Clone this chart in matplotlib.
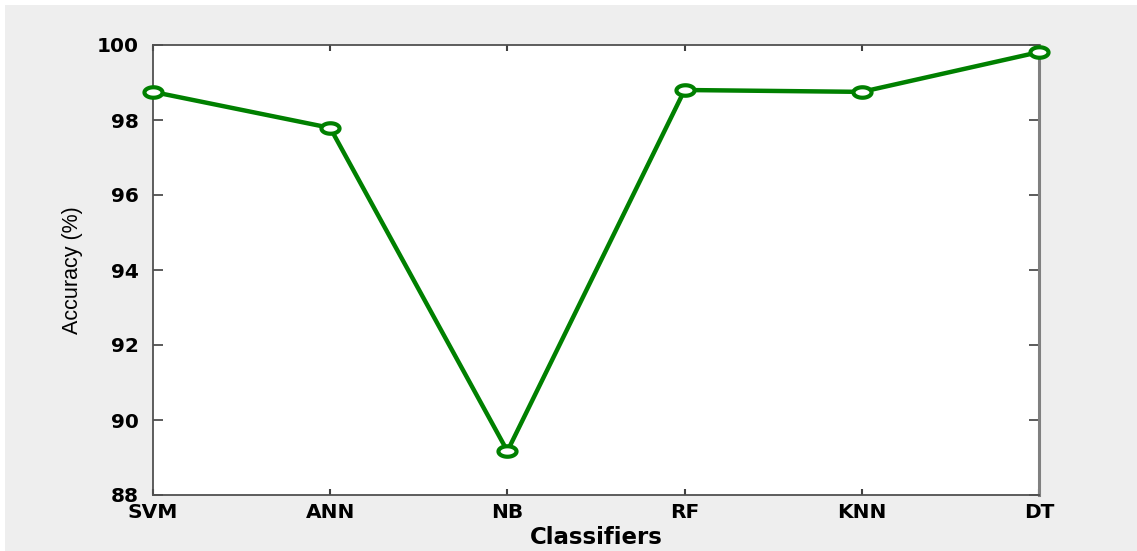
from matplotlib import pyplot as plt
from matplotlib.patches import Rectangle
from matplotlib.path import Path
import numpy as np

classifiers = ["SVM", "ANN", "NB", "RF", "KNN", "DT"]
accuracy = [98.75, 97.79, 89.17, 98.8, 98.75, 99.81]
yticks = [88, 90, 92, 94, 96, 98, 100]

plt.rcParams['font.family'] = ['DejaVu Sans']

fig = plt.figure(figsize=(11.37, 5.51), dpi=100, facecolor='white')
# gray canvas with thin white margin at top/left
fig.patches.append(Rectangle((5 / 1137, 0), 1, 1 - 5 / 551, transform=fig.transFigure,
                             facecolor='#eeeeee', edgecolor='none', zorder=-10))
ax = fig.add_axes([153 / 1137, 1 - 495 / 551, (1039 - 153) / 1137, (495 - 45) / 551])

# the reference is stretched sideways, so the markers are wide ellipses
t = np.linspace(0, 2 * np.pi, 60)
ellipse = Path(np.column_stack([np.cos(t), 0.58 * np.sin(t)]), closed=True)

x = range(len(classifiers))
ax.plot(x, accuracy, color='#008000', linewidth=3.2, marker=ellipse, markersize=13,
        markerfacecolor='white', markeredgecolor='#008000', markeredgewidth=3,
        clip_on=False, zorder=5)

ax.set_xlim(0, len(classifiers) - 1)
ax.set_ylim(88, 100)
ax.set_xticks(list(x))
ax.set_xticklabels(classifiers, fontsize=14.5, fontweight='bold')
ax.set_yticks(yticks)
ax.set_yticklabels([str(v) for v in yticks], fontsize=14.5, fontweight='bold')
ax.tick_params(direction='in', color='#404040', top=True, right=True)
ax.tick_params(axis='x', length=4, width=1.5, pad=6)
ax.tick_params(axis='y', length=7, width=1.2, pad=10)
for s in ax.spines.values():
    s.set_color('#505050')
    s.set_linewidth(1.3)
ax.spines['right'].set_color('#808080')
ax.spines['right'].set_linewidth(2.2)

ax.set_xlabel("Classifiers", fontsize=16.5, fontweight='bold', labelpad=3)
ax.set_ylabel("Accuracy (%)", fontsize=15.5, labelpad=10,
              family=['Liberation Sans Narrow', 'Liberation Sans', 'DejaVu Sans'])

fig.savefig("out.png", dpi=100)
